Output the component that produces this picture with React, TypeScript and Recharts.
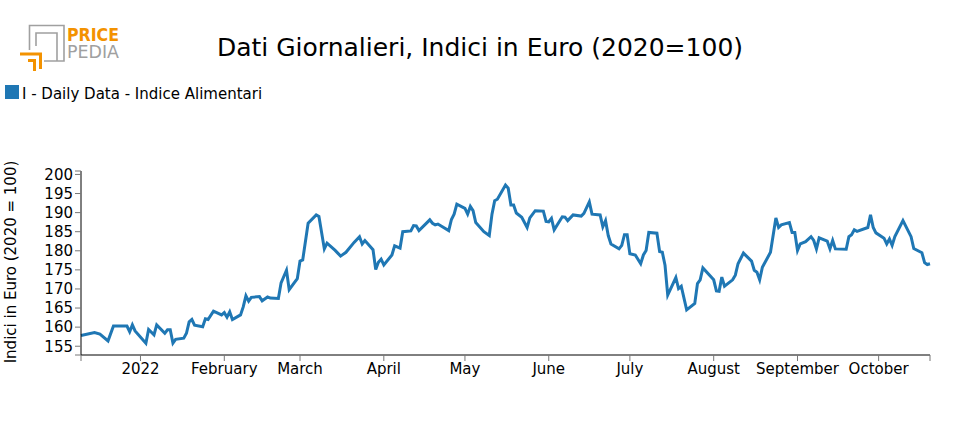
import React from 'react';
import { LineChart, Line, XAxis, YAxis } from 'recharts';

// daily index values
const dates = [
  '2021-12-10', '2021-12-15', '2021-12-17', '2021-12-20', '2021-12-22', '2021-12-27', '2021-12-28', '2021-12-29', '2021-12-30',
  '2022-01-03', '2022-01-04', '2022-01-06', '2022-01-07', '2022-01-10', '2022-01-11', '2022-01-12', '2022-01-13', '2022-01-14',
  '2022-01-17', '2022-01-18', '2022-01-19', '2022-01-20', '2022-01-21', '2022-01-24', '2022-01-25', '2022-01-26', '2022-01-28',
  '2022-01-31', '2022-02-01', '2022-02-02', '2022-02-03', '2022-02-04', '2022-02-07', '2022-02-08', '2022-02-09', '2022-02-10',
  '2022-02-11', '2022-02-14', '2022-02-15', '2022-02-17', '2022-02-18', '2022-02-21', '2022-02-22', '2022-02-24', '2022-02-25',
  '2022-02-28', '2022-03-01', '2022-03-02', '2022-03-04', '2022-03-07', '2022-03-08', '2022-03-10', '2022-03-11', '2022-03-14',
  '2022-03-16', '2022-03-18', '2022-03-21', '2022-03-23', '2022-03-24', '2022-03-25', '2022-03-28', '2022-03-29', '2022-03-30',
  '2022-03-31', '2022-04-01', '2022-04-04', '2022-04-05', '2022-04-07', '2022-04-08', '2022-04-11', '2022-04-12', '2022-04-13',
  '2022-04-14', '2022-04-18', '2022-04-19', '2022-04-20', '2022-04-21', '2022-04-25', '2022-04-26', '2022-04-27', '2022-04-28',
  '2022-05-01', '2022-05-02', '2022-05-03', '2022-05-04', '2022-05-05', '2022-05-08', '2022-05-10', '2022-05-11', '2022-05-12',
  '2022-05-13', '2022-05-16', '2022-05-17', '2022-05-18', '2022-05-19', '2022-05-20', '2022-05-22', '2022-05-24', '2022-05-25',
  '2022-05-27', '2022-05-30', '2022-05-31', '2022-06-01', '2022-06-02', '2022-06-03', '2022-06-06', '2022-06-07', '2022-06-08',
  '2022-06-10', '2022-06-13', '2022-06-14', '2022-06-16', '2022-06-17', '2022-06-20', '2022-06-21', '2022-06-22', '2022-06-23',
  '2022-06-24', '2022-06-27', '2022-06-28', '2022-06-29', '2022-06-30', '2022-07-01', '2022-07-03', '2022-07-05', '2022-07-06',
  '2022-07-07', '2022-07-08', '2022-07-11', '2022-07-12', '2022-07-13', '2022-07-14', '2022-07-15', '2022-07-18', '2022-07-19',
  '2022-07-20', '2022-07-22', '2022-07-25', '2022-07-26', '2022-07-27', '2022-07-28', '2022-08-01', '2022-08-02', '2022-08-03',
  '2022-08-04', '2022-08-05', '2022-08-08', '2022-08-09', '2022-08-10', '2022-08-12', '2022-08-15', '2022-08-16', '2022-08-17',
  '2022-08-18', '2022-08-19', '2022-08-22', '2022-08-24', '2022-08-25', '2022-08-26', '2022-08-29', '2022-08-30', '2022-08-31',
  '2022-09-01', '2022-09-02', '2022-09-04', '2022-09-06', '2022-09-07', '2022-09-08', '2022-09-09', '2022-09-12', '2022-09-13',
  '2022-09-14', '2022-09-15', '2022-09-19', '2022-09-20', '2022-09-21', '2022-09-22', '2022-09-23', '2022-09-27', '2022-09-28',
  '2022-09-29', '2022-09-30', '2022-10-03', '2022-10-04', '2022-10-05', '2022-10-06', '2022-10-07', '2022-10-10', '2022-10-13',
  '2022-10-14', '2022-10-17', '2022-10-18', '2022-10-19', '2022-10-20',
];

const values = [
  157.8, 158.6, 158.2, 156.4, 160.3, 160.3, 158.8, 160.6, 159.0,
  155.8, 159.4, 158.0, 160.6, 158.4, 159.3, 159.3, 155.8, 156.8,
  157.1, 158.4, 161.4, 162.0, 160.5, 160.1, 162.2, 162.0, 164.2,
  163.2, 163.8, 162.6, 164.0, 162.0, 163.2, 165.3, 168.2, 166.8,
  167.8, 168.0, 166.9, 167.9, 167.6, 167.5, 171.6, 174.9, 169.8,
  172.7, 177.3, 177.6, 187.2, 189.4, 189.0, 180.5, 182.0, 180.1,
  178.6, 179.6, 182.2, 183.7, 181.8, 182.7, 180.3, 175.1, 177.0,
  177.8, 176.3, 178.9, 181.3, 180.7, 185.0, 185.2, 186.6, 186.5,
  185.3, 188.1, 187.2, 186.8, 187.0, 185.3, 188.2, 189.6, 192.2,
  191.1, 189.6, 191.6, 190.5, 187.4, 185.0, 184.0, 189.6, 193.1,
  193.5, 197.2, 196.4, 192.0, 192.0, 189.9, 188.8, 186.1, 188.6,
  190.5, 190.4, 187.7, 187.6, 188.5, 185.5, 188.9, 188.8, 187.9,
  189.4, 189.1, 189.8, 192.8, 189.6, 189.4, 186.3, 187.9, 184.0,
  181.8, 180.5, 181.4, 184.2, 184.2, 179.2, 178.9, 176.6, 178.9,
  180.1, 184.8, 184.6, 179.8, 179.6, 176.2, 168.4, 173.0, 170.1,
  170.7, 164.5, 166.2, 171.4, 172.4, 175.5, 172.4, 169.5, 169.4,
  173.1, 170.7, 172.4, 173.6, 176.6, 179.4, 177.3, 174.9, 174.4,
  172.4, 175.7, 179.6, 188.6, 186.1, 186.8, 187.4, 184.8, 184.8,
  180.1, 181.8, 182.4, 183.7, 182.7, 180.5, 183.4, 182.5, 180.5,
  182.7, 180.5, 180.4, 183.7, 184.2, 185.5, 185.1, 186.1, 189.4,
  186.1, 184.7, 183.3, 181.8, 183.1, 181.4, 183.7, 187.9, 183.7,
  180.6, 179.5, 176.9, 176.4, 176.6,
];

const monthTicks = [
  '2022-01-01', '2022-02-01', '2022-03-01', '2022-04-01', '2022-05-01',
  '2022-06-01', '2022-07-01', '2022-08-01', '2022-09-01', '2022-10-01',
];
const monthLabels = [
  '2022', 'February', 'March', 'April', 'May',
  'June', 'July', 'August', 'September', 'October',
];
const yTicks = [155, 160, 165, 170, 175, 180, 185, 190, 195, 200];
const yDomain = [152.7, 200.9];

const seriesName = 'I - Daily Data - Indice Alimentari';
const LINE_COLOR = '#1f77b4';
const FONT = '"DejaVu Sans", sans-serif';

const toTime = (s: string) => Date.parse(s + 'T00:00:00Z');

const chartData = dates.map((d, i) => ({ t: toTime(d), value: values[i] }));
const xStart = chartData[0].t;
const xEnd = chartData[chartData.length - 1].t;
const monthTimes = monthTicks.map(toTime);
const xTicks = [xStart, ...monthTimes, xEnd];

const formatX = (v: number) => {
  const i = monthTimes.indexOf(v);
  return i >= 0 ? monthLabels[i] : '';
};
const formatY = (v: number) => (yTicks.includes(v) ? String(v) : '');

const Logo = () => (
  <g>
    <path d="M29.5,50 V25.5 H64 V61 H44" fill="none" stroke="#a0a0a0" strokeWidth={1.6} />
    <path d="M36,46 V33 H57 V61" fill="none" stroke="#a0a0a0" strokeWidth={1.6} />
    <path d="M20,54 H40.5 V69" fill="none" stroke="#f39200" strokeWidth={3} />
    <path d="M28,60.5 H34.5 V71" fill="none" stroke="#f39200" strokeWidth={3} />
    <text x={67} y={41} fontFamily={FONT} fontWeight="bold" fontSize={17} fill="#f39200"
      textLength={52} lengthAdjust="spacingAndGlyphs">PRICE</text>
    <text x={67} y={58} fontFamily={FONT} fontSize={17} fill="#a0a0a0"
      textLength={52} lengthAdjust="spacingAndGlyphs">PEDIA</text>
  </g>
);

export default function App() {
  return (
    <div style={{ position: 'absolute', left: 0, top: 0, width: 960, height: 430, background: '#fff' }}>
      <LineChart
        width={960}
        height={430}
        data={chartData}
        margin={{ top: 171, right: 30, bottom: 45, left: 0 }}
      >
        <XAxis
          dataKey="t"
          type="number"
          scale="time"
          domain={[xStart, xEnd]}
          ticks={xTicks}
          interval={0}
          tickFormatter={formatX}
          height={30}
          axisLine={{ stroke: '#000' }}
          tickLine={{ stroke: '#777' }}
          tick={{ fontSize: 15, fill: '#000', fontFamily: FONT }}
        />
        <YAxis
          type="number"
          domain={yDomain}
          allowDataOverflow
          ticks={[yDomain[0], ...yTicks, yDomain[1]]}
          interval={0}
          tickFormatter={formatY}
          width={81}
          axisLine={{ stroke: '#000' }}
          tickLine={{ stroke: '#777' }}
          tick={{ fontSize: 15, fill: '#000', fontFamily: FONT }}
        />
        <Line
          type="linear"
          dataKey="value"
          name={seriesName}
          stroke={LINE_COLOR}
          strokeWidth={3}
          dot={false}
          isAnimationActive={false}
        />
      </LineChart>
      <svg width={960} height={430} style={{ position: 'absolute', left: 0, top: 0, pointerEvents: 'none' }}>
        <Logo />
        <text x={480} y={56} textAnchor="middle" fontFamily={FONT} fontSize={25} fill="#000">
          Dati Giornalieri, Indici in Euro (2020=100)
        </text>
        <rect x={5} y={85} width={14} height={14} fill={LINE_COLOR} />
        <text x={22} y={99} fontFamily={FONT} fontSize={15} fill="#000">{seriesName}</text>
        <text x={16} y={262} textAnchor="middle" fontFamily={FONT} fontSize={15} fill="#000"
          transform="rotate(-90 16 262)">Indici in Euro (2020 = 100)</text>
      </svg>
    </div>
  );
}
